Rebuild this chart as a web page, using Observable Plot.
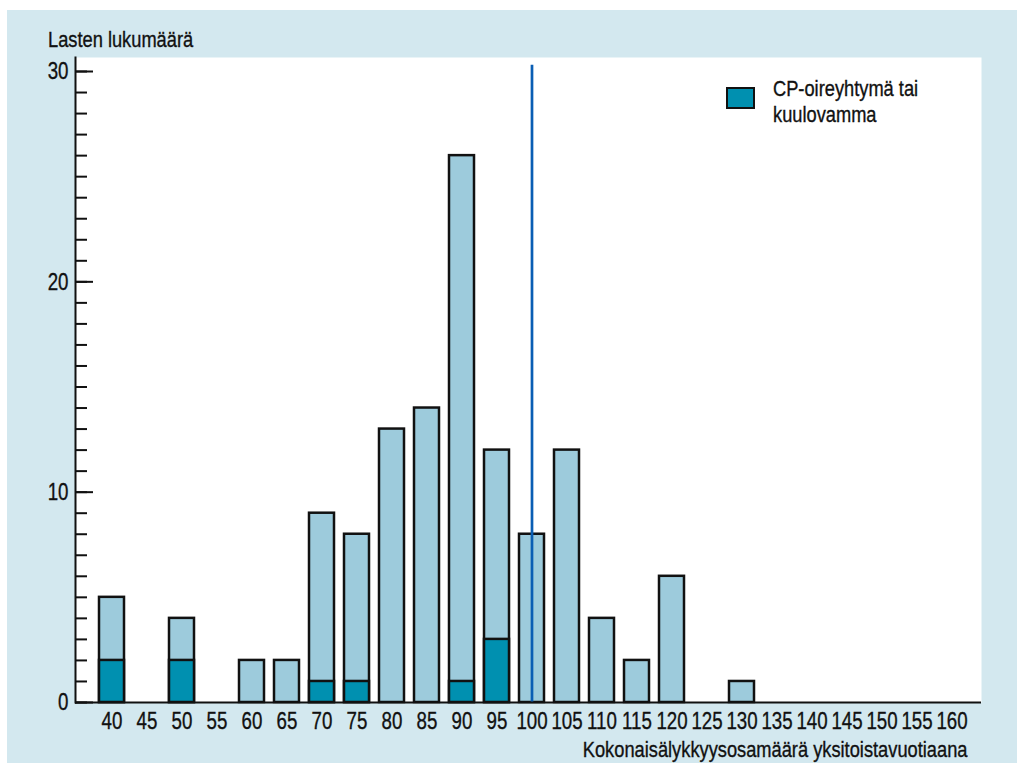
<!DOCTYPE html>
<html>
<head>
<meta charset="utf-8">
<script src="https://cdn.jsdelivr.net/npm/d3@7"></script>
<script src="https://cdn.jsdelivr.net/npm/@observablehq/plot@0.6"></script>
<style>
  html, body { margin: 0; padding: 0; background: #ffffff; }
  body { width: 1017px; height: 766px; position: relative; overflow: hidden;
         font-family: "Liberation Sans", Arial, sans-serif; color: #111; }
  #bg { position: absolute; left: 7px; top: 10px; width: 1010px; height: 753px; background: #d3e8ef; }
  #chart { position: absolute; left: 0; top: 0; }
  .txt { position: absolute; font-size: 22px; white-space: nowrap; line-height: 26px; -webkit-text-stroke: 0.35px #111; }
  #ytitle { left: 48px; top: 27px; transform: scaleX(0.83); transform-origin: 0 0; }
  #xtitle { right: 50px; top: 737px; transform: scaleX(0.83); transform-origin: 100% 0; }
  #legend { position: absolute; left: 726px; top: 76px; display: flex; align-items: flex-start; }
  #legend .sw { width: 25px; height: 18px; background: #0090b0; border: 2px solid #111; margin-top: 11px; margin-right: 18px; flex: none; }
  #legend .lab { font-size: 22px; line-height: 26px; white-space: nowrap; transform: scaleX(0.83); transform-origin: 0 0; -webkit-text-stroke: 0.35px #111; }
</style>
</head>
<body>
<div id="bg"></div>
<div id="chart"></div>
<div class="txt" id="ytitle">Lasten lukumäärä</div>
<div class="txt" id="xtitle">Kokonaisälykkyysosamäärä yksitoistavuotiaana</div>
<div id="legend"><div class="sw"></div><div class="lab">CP-oireyhtymä tai<br>kuulovamma</div></div>
<script>
// Data
const iqCategories = [40,45,50,55,60,65,70,75,80,85,90,95,100,105,110,115,120,125,130,135,140,145,150,155,160];
const totalChildren = [5,0,4,0,2,2,9,8,13,14,26,12,8,12,4,2,6,0,1,0,0,0,0,0,0];
const cpOrHearing   = [2,0,2,0,0,0,1,1,0,0,1,3,0,0,0,0,0,0,0,0,0,0,0,0,0];
const referenceIQ = [100];
const referenceLineTop = 30.3;
const yMajorTicks = [0,10,20,30];
const yMinorTicks = d3.range(0, 31);

const totals = iqCategories.map((c, i) => ({iq: c, n: totalChildren[i]})).filter(d => d.n > 0);
const subset = iqCategories.map((c, i) => ({iq: c, n: cpOrHearing[i]})).filter(d => d.n > 0);

const font = `"Liberation Sans", Arial, sans-serif`;

const chart = Plot.plot({
  width: 1017,
  height: 766,
  marginLeft: 75,
  marginRight: 36,
  marginTop: 57,
  marginBottom: 64,
  style: {background: "transparent", fontFamily: font, fontSize: "24px", color: "#111", overflow: "visible"},
  x: {type: "band", domain: iqCategories, padding: 0.29, insetLeft: 12.4, insetRight: 6.4, label: null},
  y: {domain: [0, 30], insetTop: 14, label: null},
  marks: [
    Plot.frame({fill: "white", stroke: null}),
    Plot.barY(totals, {x: "iq", y: "n", fill: "#9dcbdc", stroke: "#111", strokeWidth: 2.5}),
    Plot.barY(subset, {x: "iq", y: "n", fill: "#0090b0", stroke: "#111", strokeWidth: 2.5}),
    Plot.ruleX(referenceIQ, {x: d => d, y1: 0, y2: referenceLineTop, stroke: "#0a5eb4", strokeWidth: 2.7}),
    Plot.axisX({tickSize: 0, tickPadding: 9, fontSize: 24, label: null}),
    Plot.axisY(yMinorTicks, {tickSize: -12, strokeWidth: 2, tickFormat: () => "", label: null}),
    Plot.axisY(yMajorTicks, {tickSize: -18, strokeWidth: 2, tickFormat: () => "", label: null}),
    Plot.axisY(yMajorTicks, {tickSize: 0, tickPadding: 7, fontSize: 24, label: null}),
    Plot.ruleY([0], {stroke: "#111", strokeWidth: 2}),
    Plot.frame({anchor: "left", stroke: "#111", strokeWidth: 2})
  ]
});
// narrow the tick labels horizontally to mimic a condensed face
chart.querySelectorAll('g[aria-label="x-axis tick label"] text, g[aria-label="y-axis tick label"] text').forEach(t => {
  const tr = t.getAttribute("transform") || "";
  t.setAttribute("transform", tr + " scale(0.78,1)");
  t.setAttribute("stroke", "#111");
  t.setAttribute("stroke-width", "0.35");
});
document.getElementById("chart").appendChild(chart);
</script>
</body>
</html>
